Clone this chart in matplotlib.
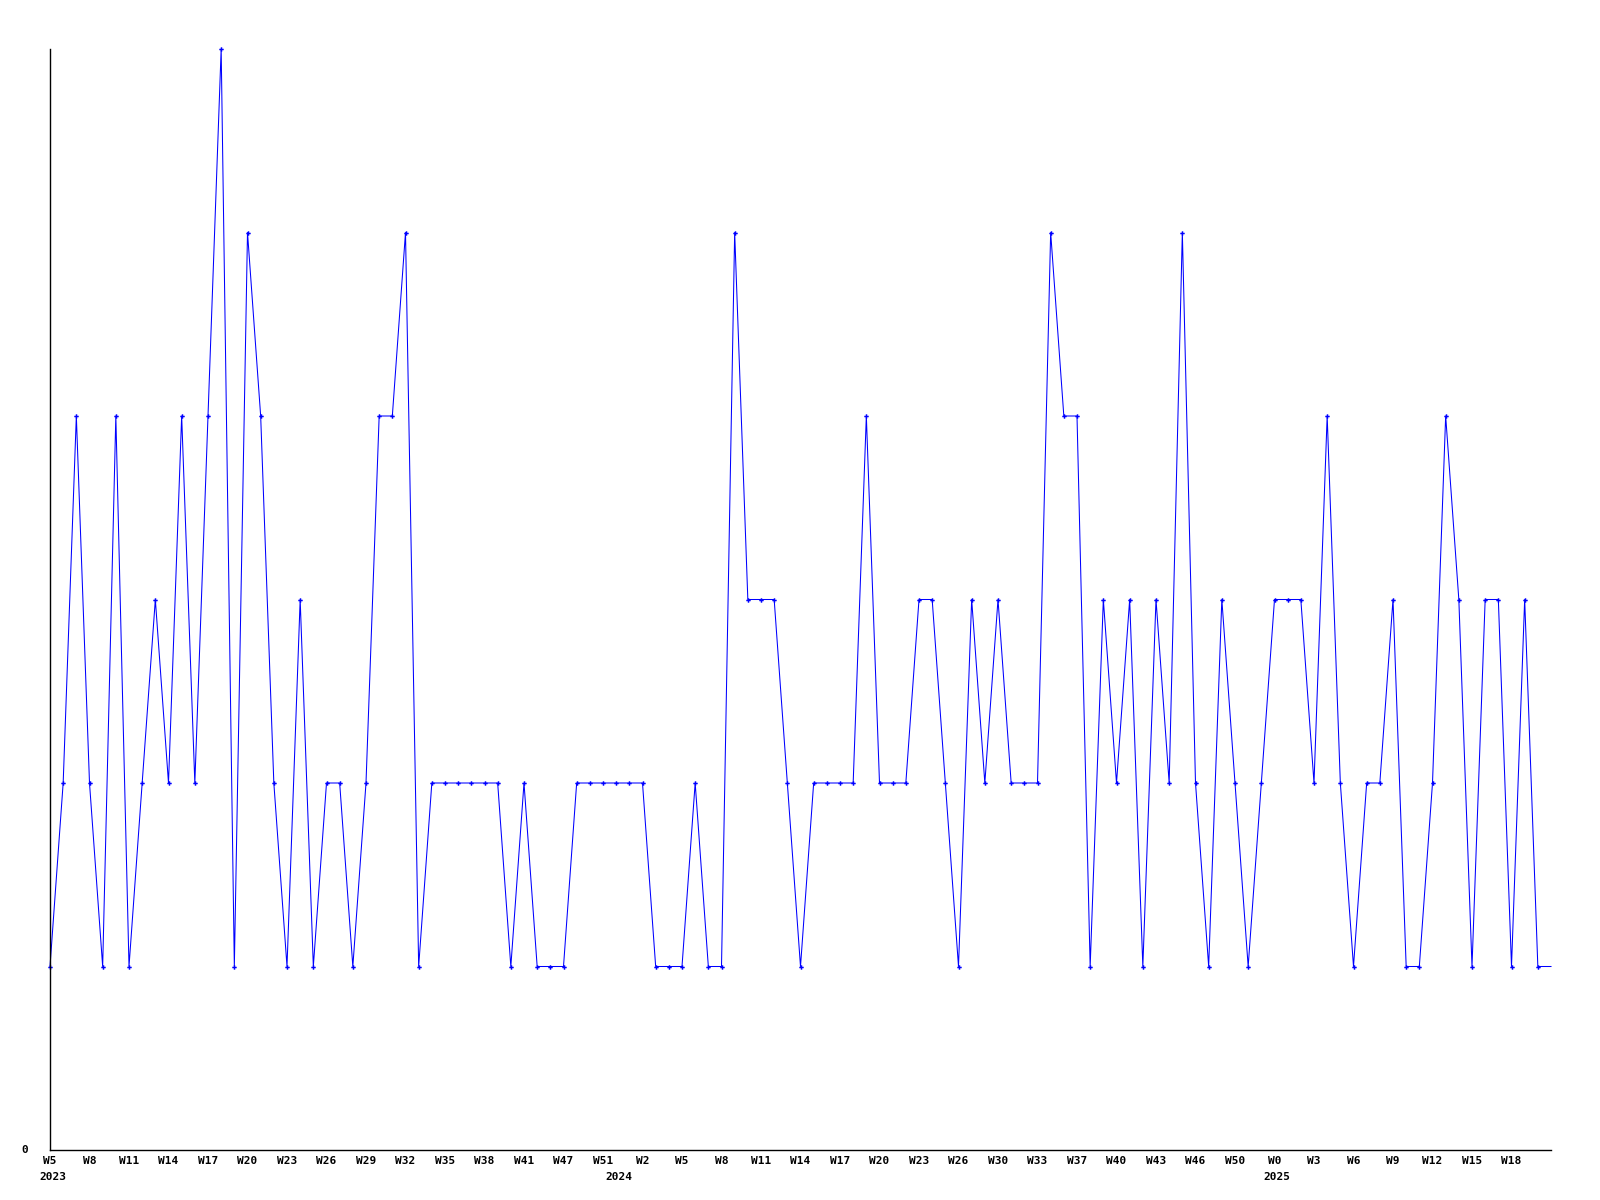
import numpy as np
import matplotlib
matplotlib.use('Agg')
import matplotlib.pyplot as plt

# weekly counts (one value per week)
values = [1, 2, 4, 2, 1, 4, 1, 2, 3, 2, 4, 2, 4, 6, 1, 5, 4, 2, 1, 3,
          1, 2, 2, 1, 2, 4, 4, 5, 1, 2, 2, 2, 2, 2, 2, 1, 2, 1, 1, 1,
          2, 2, 2, 2, 2, 2, 1, 1, 1, 2, 1, 1, 5, 3, 3, 3, 2, 1, 2, 2,
          2, 2, 4, 2, 2, 2, 3, 3, 2, 1, 3, 2, 3, 2, 2, 2, 5, 4, 4, 1,
          3, 2, 3, 1, 3, 2, 5, 2, 1, 3, 2, 1, 2, 3, 3, 3, 2, 4, 2, 1,
          2, 2, 3, 1, 1, 2, 4, 3, 1, 3, 3, 1, 3, 1, 1]

# tick labels, one every third week
week_labels = ['W5', 'W8', 'W11', 'W14', 'W17', 'W20', 'W23', 'W26', 'W29', 'W32',
               'W35', 'W38', 'W41', 'W47', 'W51', 'W2', 'W5', 'W8', 'W11', 'W14',
               'W17', 'W20', 'W23', 'W26', 'W30', 'W33', 'W37', 'W40', 'W43', 'W46',
               'W50', 'W0', 'W3', 'W6', 'W9', 'W12', 'W15', 'W18']
years = ['2023', '2024', '2025']
year_pos = [0.25, 43.2, 93.2]

font = {'family': 'DejaVu Sans Mono', 'weight': 'bold', 'size': 8}

fig = plt.figure(figsize=(16, 12), dpi=100)
ax = fig.add_axes([50 / 1600, 50 / 1200, 1501 / 1600, 1101 / 1200])

x = np.arange(len(values))
ax.plot(x, values, color='#0000ff', lw=0.75, marker='P', ms=3.2, mew=0,
        markevery=list(range(len(values) - 1)), clip_on=False)

for s in ['top', 'right']:
    ax.spines[s].set_visible(False)
for s in ['left', 'bottom']:
    ax.spines[s].set_color('black')
    ax.spines[s].set_linewidth(1)

ax.set_xticks(np.arange(len(week_labels)) * 3)
ax.set_xticklabels(week_labels, fontdict=font)
ax.set_yticks([0])
ax.set_yticklabels(['0'], fontdict=font)
ax.tick_params(axis='x', length=0, pad=4)
ax.tick_params(axis='y', length=0, pad=16)
ax.get_yticklabels()[0].set_verticalalignment('center')

ax.set_xlim(0, len(values) - 1)
ax.set_ylim(0, 6)

for lab, pos in zip(years, year_pos):
    ax.text(pos, -0.145, lab, ha='center', va='center', fontdict=font,
            transform=ax.transData, clip_on=False)

fig.savefig('out.png', dpi=100, facecolor='white')
